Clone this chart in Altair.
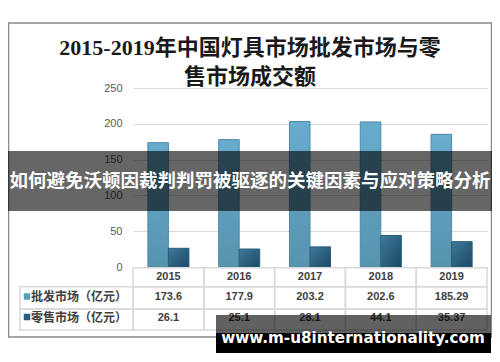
import altair as alt
import pandas as pd

# ---- data ----
years = ['2015', '2016', '2017', '2018', '2019']
wholesale = [173.6, 177.9, 203.2, 202.6, 185.29]
retail = [26.1, 25.1, 28.1, 44.1, 35.37]
wholesale_text = ['173.6', '177.9', '203.2', '202.6', '185.29']
retail_text = ['26.1', '25.1', '28.1', '44.1', '35.37']
series_names = ['批发市场', '零售市场']
row_labels = ['批发市场（亿元）', '零售市场（亿元）']
y_ticks = [0, 50, 100, 150, 200, 250]
title_lines = ['2015-2019年中国灯具市场批发市场与零', '售市场成交额']
banner_text = '如何避免沃顿因裁判判罚被驱逐的关键因素与应对策略分析'
watermark_text = 'www.m-u8internationality.com'

W, H = 354, 179

df = pd.DataFrame({
    'year': years,
    'wholesale': wholesale,
    'retail': retail,
    'wt': wholesale_text,
    'rt': retail_text,
})
one = pd.DataFrame({'k': [0]})

xscale = alt.Scale(domain=years, paddingInner=0.42, paddingOuter=0.21)
yscale = alt.Scale(domain=[0, 250])
offscale = alt.Scale(domain=series_names, paddingInner=0, paddingOuter=0)
tscale = alt.Scale(domain=years, paddingInner=0, paddingOuter=0)

yaxis = alt.Axis(values=y_ticks, title=None, domain=False, ticks=False,
                 grid=True, gridColor='#d9d9d9', gridWidth=1,
                 labelFont='Liberation Sans', labelFontSize=11,
                 labelColor='#595959', labelPadding=11)

grad_w = alt.LinearGradient(
    gradient='linear',
    stops=[alt.GradientStop(color='#68acce', offset=0),
           alt.GradientStop(color='#5793ae', offset=1)],
    x1=0, x2=0, y1=0, y2=1)
grad_r = alt.LinearGradient(
    gradient='linear',
    stops=[alt.GradientStop(color='#3f7a99', offset=0),
           alt.GradientStop(color='#1a4965', offset=1)],
    x1=0, x2=1, y1=0, y2=1)

base = alt.Chart(df)

frame = alt.Chart(one).mark_rect(filled=False, stroke='#8a8a8a', strokeWidth=1.5).encode(
    x=alt.value(-124.5), x2=alt.value(358.5), y=alt.value(-65), y2=alt.value(249))

bars_w = base.transform_calculate(s="'批发市场'").mark_bar(
    fill=grad_w, stroke='#4d8aab', strokeWidth=1).encode(
    x=alt.X('year:N', scale=xscale, axis=None),
    xOffset=alt.XOffset('s:N', scale=offscale),
    y=alt.Y('wholesale:Q', scale=yscale, axis=yaxis),
)
bars_r = base.transform_calculate(s="'零售市场'").mark_bar(
    fill=grad_r, stroke='#2a5c7a', strokeWidth=1).encode(
    x=alt.X('year:N', scale=xscale, axis=None),
    xOffset=alt.XOffset('s:N', scale=offscale),
    y=alt.Y('retail:Q', scale=yscale, axis=yaxis),
)

cell_style = dict(filled=False, stroke='#d9d9d9', strokeWidth=1.5)
cells_h = base.mark_rect(**cell_style).encode(
    x=alt.X('year:N', scale=tscale, axis=None), y=alt.value(179.7), y2=alt.value(198.7))
cells_1 = base.mark_rect(**cell_style).encode(
    x=alt.X('year:N', scale=tscale, axis=None), y=alt.value(198.7), y2=alt.value(221))
cells_2 = base.mark_rect(**cell_style).encode(
    x=alt.X('year:N', scale=tscale, axis=None), y=alt.value(221), y2=alt.value(242))
left_1 = alt.Chart(one).mark_rect(**cell_style).encode(
    x=alt.value(-113), x2=alt.value(0), y=alt.value(198.7), y2=alt.value(221))
left_2 = alt.Chart(one).mark_rect(**cell_style).encode(
    x=alt.value(-113), x2=alt.value(0), y=alt.value(221), y2=alt.value(242))

txt = dict(font='Liberation Sans', fontSize=11, fontWeight='bold', color='#404040',
           baseline='middle', align='center')
t_head = base.mark_text(**txt).encode(
    x=alt.X('year:N', scale=tscale, axis=None), y=alt.value(188.7), text='year:N')
t_w = base.mark_text(**txt).encode(
    x=alt.X('year:N', scale=tscale, axis=None), y=alt.value(209), text='wt:N')
t_r = base.mark_text(**txt).encode(
    x=alt.X('year:N', scale=tscale, axis=None), y=alt.value(230), text='rt:N')

key_w = alt.Chart(one).mark_square(size=42, filled=True, color='#5b9fc0', opacity=1).encode(
    x=alt.value(-106), y=alt.value(208.5))
key_r = alt.Chart(one).mark_square(size=42, filled=True, color='#285f80', opacity=1).encode(
    x=alt.value(-106), y=alt.value(229))
lab_style = dict(font='Noto Sans CJK SC', fontSize=12, fontWeight='bold', color='#404040',
                 baseline='middle', align='left')
lab_w = alt.Chart(one).mark_text(**lab_style).encode(
    x=alt.value(-102), y=alt.value(208.5), text=alt.value(row_labels[0]))
lab_r = alt.Chart(one).mark_text(**lab_style).encode(
    x=alt.value(-102), y=alt.value(229.5), text=alt.value(row_labels[1]))

title_style = dict(font='Liberation Serif, Noto Sans CJK SC', fontSize=22, fontWeight='bold',
                   color='#1a1a1a', baseline='middle', align='center')
title1 = alt.Chart(one).mark_text(**title_style).encode(
    x=alt.value(117), y=alt.value(-40), text=alt.value(title_lines[0]))
title2 = alt.Chart(one).mark_text(**title_style).encode(
    x=alt.value(117), y=alt.value(-11.5), text=alt.value(title_lines[1]))

banner = alt.Chart(one).mark_rect(color='#000000', opacity=0.6).encode(
    x=alt.value(-133), x2=alt.value(367), y=alt.value(63), y2=alt.value(123))
banner_t = alt.Chart(one).mark_text(
    font='Noto Sans CJK SC', fontSize=18.5, fontWeight='bold', color='#ffffff',
    baseline='middle', align='center').encode(
    x=alt.value(117), y=alt.value(93), text=alt.value(banner_text))

wm_gray = alt.Chart(one).mark_rect(color='#000000', opacity=0.62).encode(
    x=alt.value(83), x2=alt.value(358), y=alt.value(227), y2=alt.value(245))
wm_black = alt.Chart(one).mark_rect(color='#000000', opacity=1).encode(
    x=alt.value(83), x2=alt.value(358), y=alt.value(245), y2=alt.value(265))
wm_t = alt.Chart(one).mark_text(
    font='DejaVu Sans', fontSize=15.2, fontWeight='bold', color='#ffffff',
    baseline='alphabetic', align='center').encode(
    x=alt.value(220), y=alt.value(254.7), text=alt.value(watermark_text))

chart = alt.layer(
    frame, bars_w, bars_r,
    cells_h, cells_1, cells_2, left_1, left_2,
    t_head, t_w, t_r, key_w, key_r, lab_w, lab_r,
    title1, title2, banner, banner_t, wm_gray, wm_black, wm_t,
).resolve_scale(x='independent').properties(
    width=W, height=H,
    padding={'left': 125, 'top': 80, 'right': 5, 'bottom': 87},
    autosize=alt.AutoSizeParams(type='none'),
    background='#ffffff',
).configure_view(strokeWidth=0)

chart.save('out.html', embed_options={'renderer': 'svg', 'actions': False})
